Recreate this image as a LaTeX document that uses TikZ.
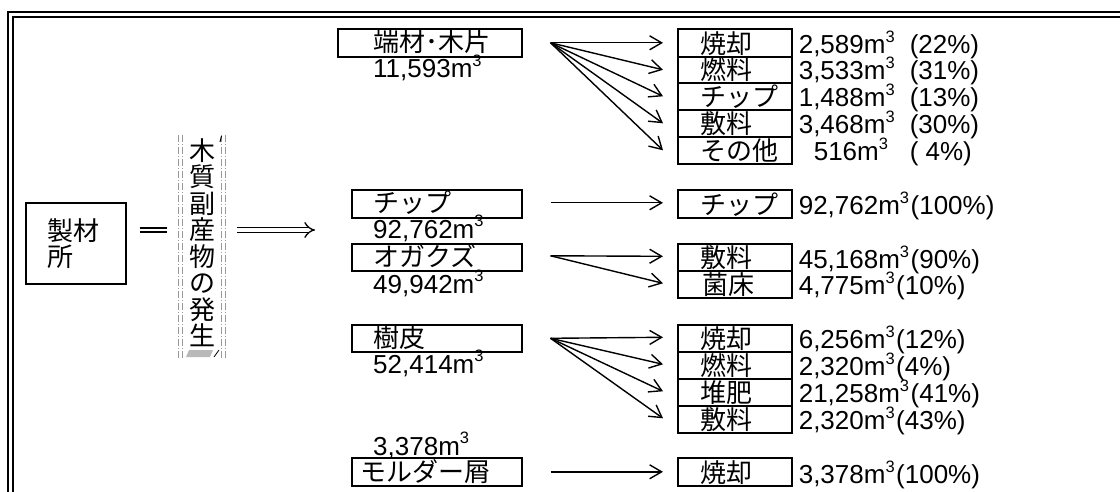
\documentclass[tikz,border=0pt]{standalone}
\usepackage{fontspec}
\setmainfont{Liberation Sans}
\newfontfamily\jp{Noto Sans CJK JP}
\usetikzlibrary{arrows.meta,calc}
\newcommand\mcu{m\raisebox{11.5pt}{\fontsize{16.5}{16.5}\selectfont 3}\hspace{1.5pt}}
\begin{document}
\begin{tikzpicture}[x=1pt,y=-1pt,
  box/.style={draw, line width=1.6pt, inner sep=0pt, anchor=north west},
  jtxt/.style={font=\jp\fontsize{26}{26}\selectfont, inner sep=0pt, anchor=base west},
  ntxt/.style={font=\fontsize{26}{26}\selectfont, inner sep=0pt, anchor=base west},
  arr/.style={line width=1.4pt, -{Straight Barb[length=12pt,width=14pt]}},
  frameline/.style={line width=1.7pt},
  dd/.style={draw=gray!80, line width=0.8pt, dash pattern=on 7pt off 2pt on 1pt off 2pt}
]
\useasboundingbox (0,0) rectangle (1120,492);
% frame
\draw[frameline] (8,492) -- (8,12) -- (1120,12);
\draw[frameline] (13,492) -- (13,17) -- (1120,17);

% left part
\node[box, minimum width=100pt, minimum height=81pt, text width=56pt, align=left,
      font=\jp\fontsize{26}{26}\selectfont] (seizai) at (25,202) {製材\\所};
\node[minimum width=46pt, minimum height=223pt, inner sep=0pt, align=center,
      font=\jp\fontsize{26}{26.5}\selectfont] (vt) at (202,242.5) {木\\質\\副\\産\\物\\の\\発\\生};
\draw[dd] ($(vt.north west)+(0,4)$) -- ($(vt.south west)+(0,4)$);
\draw[dd] ($(vt.north west)+(4,4)$) -- ($(vt.south west)+(4,4)$);
\draw[dd] ($(vt.north east)+(0,4)$) -- ($(vt.south east)+(0,4)$);
\draw[dd] ($(vt.north east)+(-4,4)$) -- ($(vt.south east)+(-4,4)$);
\fill[gray!55] (186,357) -- (189,350) -- (213,350) -- (210,357) -- cycle;
\draw[line width=0.8pt] (214,357) -- (219,350);
\draw[line width=1pt] (220,142) -- (221.5,136);

\coordinate (flowend) at (315,230);
\draw[line width=1.3pt, double, double distance=2.6pt, shorten <=13pt, shorten >=12pt]
  (seizai.east |- flowend) -- (vt.west |- flowend);
\draw[line width=1.3pt, double, double distance=4.2pt, shorten <=12pt, -{Implies[scale=1.3]}]
  (vt.east |- flowend) -- (flowend);

% source boxes
\node[box, minimum width=184pt, minimum height=28pt] (hz) at (337,28) {};
\node[jtxt] (hzt) at (373,52) {端材･木片};
\node[ntxt] (hzn) at (373,78) {11,593\mcu};

\node[box, minimum width=170pt, minimum height=28pt] (lchip) at (351,189) {};
\node[jtxt] (lchipt) at (373,213) {チップ};
\node[ntxt] (lchipn) at (373,238) {92,762\mcu};

\node[box, minimum width=170pt, minimum height=27pt] (oga) at (351,243) {};
\node[jtxt] (ogat) at (373,266) {オガクズ};
\node[ntxt] (ogan) at (373,293) {49,942\mcu};

\node[box, minimum width=170pt, minimum height=27pt] (juhi) at (351,324) {};
\node[jtxt] (juhit) at (373,347) {樹皮};
\node[ntxt] (juhin) at (373,373) {52,414\mcu};

\node[ntxt] (moln) at (373,455) {3,378\mcu};
\node[box, minimum width=170pt, minimum height=28pt] (mol) at (351,457) {};
\node[jtxt] (molt) at (360,481) {モルダー屑};

% target boxes group 1
\node[box, minimum width=114pt, minimum height=28pt] (r11) at (677,28) {};
\node[box, minimum width=114pt, minimum height=26pt] (r12) at (677,56) {};
\node[box, minimum width=114pt, minimum height=27pt] (r13) at (677,82) {};
\node[box, minimum width=114pt, minimum height=27pt] (r14) at (677,109) {};
\node[box, minimum width=114pt, minimum height=27pt] (r15) at (677,136) {};
% group 2
\node[box, minimum width=114pt, minimum height=28pt] (r21) at (677,189) {};
% group 3
\node[box, minimum width=114pt, minimum height=27pt] (r31) at (677,243) {};
\node[box, minimum width=114pt, minimum height=27pt] (r32) at (677,270) {};
% group 4
\node[box, minimum width=114pt, minimum height=27pt] (r41) at (677,324) {};
\node[box, minimum width=114pt, minimum height=27pt] (r42) at (677,351) {};
\node[box, minimum width=114pt, minimum height=27pt] (r43) at (677,378) {};
\node[box, minimum width=114pt, minimum height=27pt] (r44) at (677,405) {};
% group 5
\node[box, minimum width=114pt, minimum height=28pt] (r51) at (677,457) {};

% target texts
\node[jtxt] (r11t) at ($(r11.south west)+(23,-4)$) {焼却};
\node[jtxt] (r12t) at ($(r12.south west)+(23,-4)$) {燃料};
\node[jtxt] (r13t) at ($(r13.south west)+(23,-4)$) {チップ};
\node[jtxt] (r14t) at ($(r14.south west)+(23,-4)$) {敷料};
\node[jtxt] (r15t) at ($(r15.south west)+(23,-4)$) {その他};
\node[jtxt] (r21t) at ($(r21.south west)+(23,-4)$) {チップ};
\node[jtxt] (r31t) at ($(r31.south west)+(23,-4)$) {敷料};
\node[jtxt] (r32t) at ($(r32.south west)+(25,-4)$) {菌床};
\node[jtxt] (r41t) at ($(r41.south west)+(23,-4)$) {焼却};
\node[jtxt] (r42t) at ($(r42.south west)+(23,-4)$) {燃料};
\node[jtxt] (r43t) at ($(r43.south west)+(23,-4)$) {堆肥};
\node[jtxt] (r44t) at ($(r44.south west)+(23,-4)$) {敷料};
\node[jtxt] (r51t) at ($(r51.south west)+(23,-4)$) {焼却};

% numbers
\node[ntxt] (r11n) at ($(r11.south east)+(6,-4)$) {2,589\mcu};
\node[ntxt] (r11p) at ($(r11.south east)+(117,-4)$) {(22\%)};
\node[ntxt] (r12n) at ($(r12.south east)+(6,-4)$) {3,533\mcu};
\node[ntxt] (r12p) at ($(r12.south east)+(117,-4)$) {(31\%)};
\node[ntxt] (r13n) at ($(r13.south east)+(6,-4)$) {1,488\mcu};
\node[ntxt] (r13p) at ($(r13.south east)+(117,-4)$) {(13\%)};
\node[ntxt] (r14n) at ($(r14.south east)+(6,-4)$) {3,468\mcu};
\node[ntxt] (r14p) at ($(r14.south east)+(117,-4)$) {(30\%)};
\node[ntxt] (r15n) at ($(r15.south east)+(21,-4)$) {516\mcu};
\node[ntxt] (r15p) at ($(r15.south east)+(117,-4)$) {(~4\%)};
\node[ntxt] (r21n) at ($(r21.south east)+(6,-4)$) {92,762\mcu(100\%)};
\node[ntxt] (r31n) at ($(r31.south east)+(6,-3)$) {45,168\mcu(90\%)};
\node[ntxt] (r32n) at ($(r32.south east)+(6,-4)$) {4,775\mcu(10\%)};
\node[ntxt] (r41n) at ($(r41.south east)+(6,-4)$) {6,256\mcu(12\%)};
\node[ntxt] (r42n) at ($(r42.south east)+(6,-4)$) {2,320\mcu(4\%)};
\node[ntxt] (r43n) at ($(r43.south east)+(6,-4)$) {21,258\mcu(41\%)};
\node[ntxt] (r44n) at ($(r44.south east)+(6,-4)$) {2,320\mcu(43\%)};
\node[ntxt] (r51n) at ($(r51.south east)+(6,-3)$) {3,378\mcu(100\%)};

% arrows
\coordinate (s1) at ($(hz.east)+(28,0)$);
\coordinate (s2) at ($(lchip.east)+(28,-1)$);
\coordinate (s3) at ($(oga.east)+(28,-1.5)$);
\coordinate (s4) at ($(juhi.east)+(28,0)$);
\coordinate (s5) at ($(mol.east)+(28,0)$);
\foreach \t in {r11,r12,r13,r14,r15} \draw[arr] (s1) -- ($(\t.west)+(-14,0)$);
\draw[arr] (s2) -- ($(r21.west |- s2)+(-14,0)$);
\foreach \t in {r31,r32} \draw[arr] (s3) -- ($(\t.west)+(-14,-1)$);
\foreach \t in {r41,r42,r43,r44} \draw[arr] (s4) -- ($(\t.west)+(-14,-1)$);
\draw[arr] (s5) -- ($(r51.west)+(-14,0)$);
\end{tikzpicture}
\end{document}
